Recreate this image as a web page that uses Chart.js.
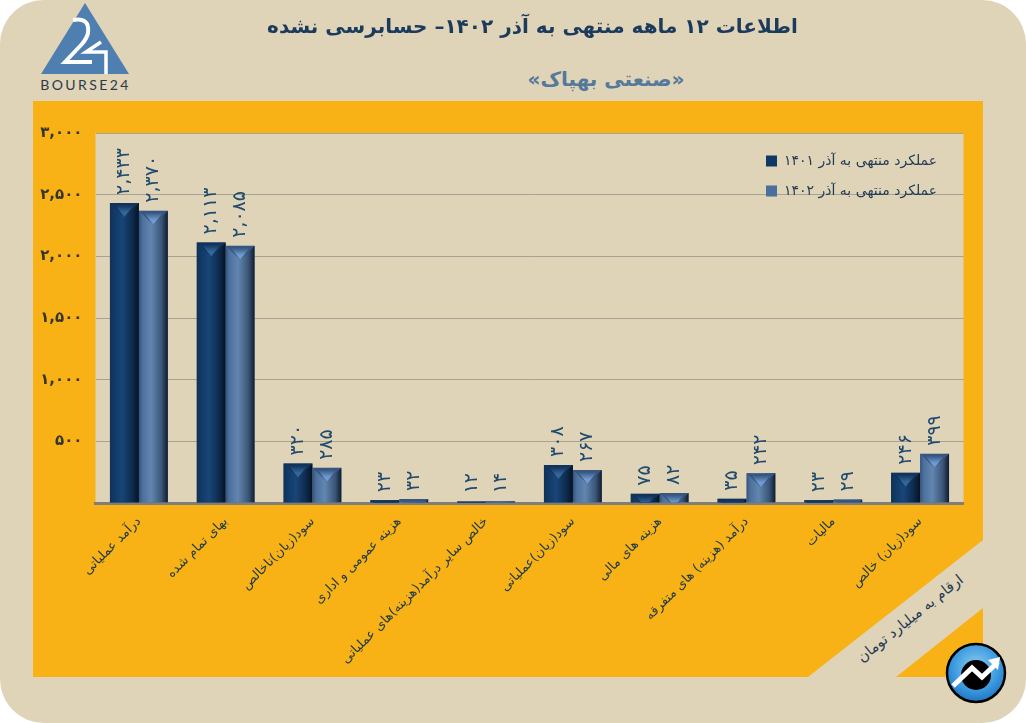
<!DOCTYPE html>
<html lang="fa">
<head>
<meta charset="utf-8">
<style>
html,body{margin:0;padding:0;background:#fff;width:1026px;height:723px;overflow:hidden}
#wrap{position:relative;width:1026px;height:723px}
#wrap svg,#wrap canvas{position:absolute;left:0;top:0}
</style>
<script src="https://cdn.jsdelivr.net/npm/chart.js@4"></script>
</head>
<body>
<div id="wrap">
<svg width="1026" height="723" viewBox="0 0 1026 723" xmlns="http://www.w3.org/2000/svg">
  <defs>
    <radialGradient id="blue" cx="50%" cy="40%" r="65%">
      <stop offset="0" stop-color="#8fcdf0"/><stop offset=".6" stop-color="#3c9be0"/><stop offset="1" stop-color="#1a6cb8"/>
    </radialGradient>
  </defs>
  <rect x="0" y="0" width="1026" height="723" rx="44" ry="44" fill="#DFD3B8"/>
  <polygon points="33,101 983,101 983,540 808,677 33,677" fill="#F9B216"/>
  <polygon points="983,608 983,677 896,677" fill="#F9B216"/>
  <polygon points="85,3 129,74 41,74" fill="#4F7FB0"/>
  <path d="M73 20 Q90 17 88 33 Q87 38 82 44 L65 62 H92" fill="none" stroke="#fff" stroke-width="4"/>
  <path d="M101 42 L86 52 H106 V74" fill="none" stroke="#fff" stroke-width="3.5"/>
  <text x="85.5" y="90" text-anchor="middle" font-family="Lato" font-size="14" letter-spacing="2.4" fill="#2b3a4a">BOURSE24</text>
  <text x="606" y="86" text-anchor="middle" direction="rtl" font-family="DejaVu Sans" font-weight="bold" font-size="20" fill="#55799A">«صنعتی بهپاک»</text>
  <text transform="translate(913 622) rotate(-38.5)" text-anchor="middle" direction="rtl" font-family="DejaVu Sans" font-size="14.5" fill="#1F3A55">ارقام به میلیارد تومان</text>
  <circle cx="976" cy="673" r="29" fill="url(#blue)" stroke="#000" stroke-width="2.5"/>
  <circle cx="976" cy="675" r="15" fill="#000"/>
  <path d="M953 686 L972 668 L982 677 L998 662" fill="none" stroke="#fff" stroke-width="5"/>
  <polygon points="1000,657 988,660 998,670" fill="#fff"/>
</svg>
<canvas id="c" width="1026" height="723"></canvas>
</div>
<script>
const titleText = 'اطلاعات ۱۲ ماهه منتهی به آذر ۱۴۰۲– حسابرسی نشده';
const categories = ['درآمد عملیاتی','بهای تمام شده','سود(زیان)ناخالص','هزینه عمومی و اداری','خالص سایر درآمد(هزینه)های عملیاتی','سود(زیان)عملیاتی','هزینه های مالی','درآمد (هزینه) های متفرقه','مالیات','سود(زیان) خالص'];
const series1401 = [2433,2113,320,23,12,308,75,35,23,246];
const series1402 = [2370,2085,285,32,14,267,82,242,29,399];
const label1401 = 'عملکرد منتهی به آذر ۱۴۰۱';
const label1402 = 'عملکرد منتهی به آذر ۱۴۰۲';

const FONT = '"DejaVu Sans"';
Chart.defaults.font.family = FONT;
const fa = n => n.toLocaleString('en-US').replace(/\d/g, d => '۰۱۲۳۴۵۶۷۸۹'[d]);

const palettes = [
  {edgeL:'#123056', mid:'#0F3864', light:'#184678', dark:'#0D2A4C', edgeR:'#071222', top:'#12335C', tri:'#33669A'},
  {edgeL:'#34527A', mid:'#4C709C', light:'#6286B0', dark:'#3A5678', edgeR:'#101B2C', top:'#37567F', tri:'#6F9BD2'}
];

const plotFill = {
  id:'plotFill',
  beforeDraw(chart){
    const {ctx,chartArea:a} = chart;
    ctx.save();
    ctx.fillStyle = '#DFD3B8';
    ctx.fillRect(a.left,a.top,a.right-a.left,a.bottom-a.top+2);
    ctx.restore();
  }
};

const placeBoxes = {
  id:'placeBoxes',
  afterLayout(chart){
    const lg = chart.legend;
    const pad = lg.options.labels.padding;
    lg.left = 766 - pad;
    lg.top = 154 - pad;
    chart.titleBlock.left += 3;
    chart.titleBlock.right += 3;
  }
};

const bevel = {
  id:'bevel',
  afterDatasetsDraw(chart){
    const ctx = chart.ctx;
    chart.data.datasets.forEach((ds,di)=>{
      const p = palettes[di];
      chart.getDatasetMeta(di).data.forEach(el=>{
        const w = el.width, x0 = el.x-w/2, x1 = el.x+w/2, y = el.y, h = el.base-el.y;
        if(h<=0) return;
        ctx.save();
        ctx.beginPath(); ctx.rect(x0,y,w,h); ctx.clip();
        const g = ctx.createLinearGradient(x0,0,x1,0);
        g.addColorStop(0,p.edgeL); g.addColorStop(.12,p.mid); g.addColorStop(.42,p.light);
        g.addColorStop(.78,p.dark); g.addColorStop(1,p.edgeR);
        ctx.fillStyle = g; ctx.fillRect(x0,y,w,h);
        const b = Math.min(14,w/2);
        ctx.fillStyle = p.top;
        ctx.beginPath(); ctx.moveTo(x0,y); ctx.lineTo(x1,y); ctx.lineTo(el.x,y+b); ctx.closePath(); ctx.fill();
        const t = ctx.createLinearGradient(0,y+2,0,y+b);
        t.addColorStop(0,p.top); t.addColorStop(.6,p.tri); t.addColorStop(1,p.tri);
        ctx.fillStyle = t;
        ctx.beginPath(); ctx.moveTo(x0+5,y+2); ctx.lineTo(x1-5,y+2); ctx.lineTo(el.x,y+b); ctx.closePath(); ctx.fill();
        ctx.restore();
      });
    });
  }
};

const valueLabels = {
  id:'valueLabels',
  afterDatasetsDraw(chart){
    const ctx = chart.ctx;
    ctx.save();
    ctx.font = '19px '+FONT;
    ctx.fillStyle = '#1F4A6E';
    ctx.textAlign = 'left';
    ctx.textBaseline = 'middle';
    chart.data.datasets.forEach((ds,di)=>{
      chart.getDatasetMeta(di).data.forEach((el,i)=>{
        ctx.save();
        ctx.translate(el.x, el.y-8);
        ctx.rotate(-Math.PI/2);
        ctx.fillText(fa(ds.data[i]),0,0);
        ctx.restore();
      });
    });
    ctx.restore();
  }
};

new Chart(document.getElementById('c'),{
  type:'bar',
  data:{
    labels:categories,
    datasets:[
      {label:label1401,data:series1401,backgroundColor:'#0F3864'},
      {label:label1402,data:series1402,backgroundColor:'#4C709C'}
    ]
  },
  plugins:[plotFill,placeBoxes,bevel,valueLabels],
  options:{
    responsive:false,
    animation:false,
    layout:{padding:{left:33,right:62.5,top:0,bottom:0}},
    datasets:{bar:{barPercentage:1,categoryPercentage:0.668}},
    plugins:{
      title:{display:true,text:titleText,fullSize:false,color:'#1B3A5C',font:{size:20,weight:'bold',family:FONT,lineHeight:1.2},padding:{top:16,bottom:93}},
      legend:{
        position:'chartArea',align:'start',rtl:false,
        labels:{boxWidth:11,boxHeight:11,padding:16,color:'#1F3A55',font:{size:14,family:FONT}}
      },
      tooltip:{enabled:false}
    },
    scales:{
      x:{
        afterFit(s){s.height=220;},
        grid:{display:false,drawTicks:false},
        border:{display:true,color:'#7F7F78',width:3},
        ticks:{autoSkip:false,minRotation:45,maxRotation:45,padding:11,color:'#1F3A45',font:{size:13,family:FONT}}
      },
      y:{
        min:0,max:3000,
        afterFit(s){s.width=62.5;},
        grid:{color:'#A8A294',lineWidth:1,drawTicks:false},
        border:{display:false},
        ticks:{stepSize:500,padding:13,color:'#33352E',font:{size:15,weight:'bold',family:FONT},callback:v=>v===0?'':fa(v)}
      }
    }
  }
});
</script>
</body>
</html>
